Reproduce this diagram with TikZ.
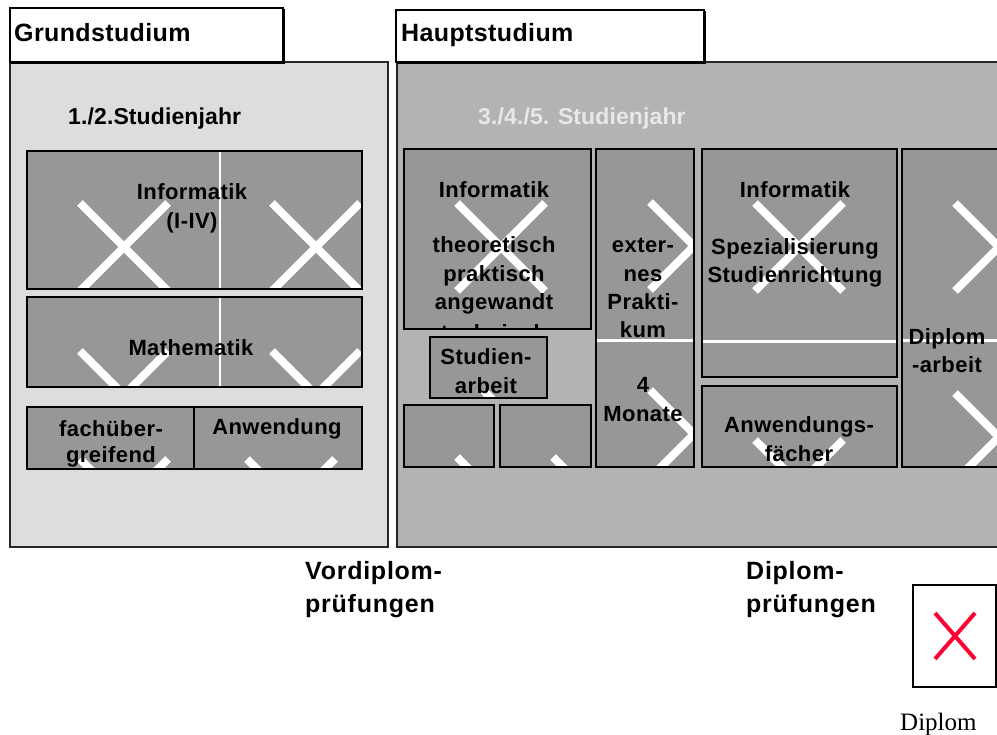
\documentclass[tikz,border=0pt]{standalone}
\usepackage{fontspec}
\setmainfont{Liberation Sans}
\newfontfamily\titlefont[LetterSpace=1.5]{Liberation Sans}
\newfontfamily\yearfont[LetterSpace=0.5]{Liberation Sans}
\newfontfamily\innerfont[LetterSpace=2]{Liberation Sans}
\newfontfamily\labelfont[LetterSpace=3]{Liberation Sans}
\newfontfamily\serifface{Liberation Serif}
\definecolor{lightbg}{HTML}{DDDDDD}
\definecolor{midbg}{HTML}{B3B3B3}
\definecolor{cellfill}{HTML}{979797}
\definecolor{yeartext}{HTML}{E8E8E8}
\definecolor{xred}{HTML}{FF0033}
\newcommand\brokenimg[2]{\draw[xline] (#1,#2) ++(-44,-44) -- ++(88,88) ++(0,-88) -- ++(-88,88);}
\begin{document}
\begin{tikzpicture}[x=1pt,y=-1pt,
  tabbox/.style={draw=black, line width=2pt, fill=white},
  panel/.style={draw=black!85, line width=1.5pt},
  cell/.style={draw=black, line width=1.6pt},
  xline/.style={white, line width=8pt},
  sepline/.style={white, line width=2.5pt},
  txt/.style={anchor=base, inner sep=0pt, font=\innerfont\bfseries\fontsize{22}{26}\selectfont},
  ttl/.style={anchor=base west, inner sep=0pt, font=\titlefont\bfseries\fontsize{25}{29}\selectfont},
  yr/.style={anchor=base west, inner sep=0pt, font=\yearfont\bfseries\fontsize{23}{27}\selectfont},
  lbl/.style={anchor=base west, inner sep=0pt, font=\labelfont\bfseries\fontsize{25}{29}\selectfont}]
\clip (0,0) rectangle (997,735);
\fill[white] (0,0) rectangle (997,735);

% ---------- panels ----------
\draw[panel, fill=lightbg] (10,62) rectangle (388,547);
\draw[panel, fill=midbg] (397,62) rectangle (1010,547);
\draw[tabbox] (10,8) rectangle (283,62);
\draw[black, line width=1.5pt] (284.5,9) -- (284.5,63.5) -- (11,63.5);
\draw[tabbox] (396,10) rectangle (704,62);
\draw[black, line width=1.5pt] (705.5,11) -- (705.5,63.5) -- (397,63.5);
\node[ttl] (grund) at (14,42) {Grundstudium};
\node[ttl] (haupt) at (401,42) {Hauptstudium};
\node[yr] (year1) at (68,125) {1./2.Studienjahr};
\node[yr, text=yeartext] (year2) at (478,125) {3./4./5. Studienjahr};

% ---------- Grundstudium cells ----------
\begin{scope}
  \clip (27,151) rectangle (362,289);
  \fill[cellfill] (27,151) rectangle (362,289);
  \draw[sepline] (220,151) -- (220,289);
  \brokenimg{124}{247}
  \brokenimg{316}{247}
  \node[txt] (infA) at (192,200) {Informatik};
  \node[txt] (infB) at (192,229) {(I-IV)};
\end{scope}
\draw[cell] (27,151) rectangle (362,289);

\begin{scope}
  \clip (27,297) rectangle (362,387);
  \fill[cellfill] (27,297) rectangle (362,387);
  \draw[sepline] (220,297) -- (220,387);
  \brokenimg{124}{395}
  \brokenimg{316}{395}
  \node[txt] (math) at (191,356) {Mathematik};
\end{scope}
\draw[cell] (27,297) rectangle (362,387);

\begin{scope}
  \clip (27,407) rectangle (194,469);
  \fill[cellfill] (27,407) rectangle (194,469);
  \brokenimg{124}{503}
  \node[txt] (fachA) at (111,437) {fachüber-};
  \node[txt] (fachB) at (111,463) {greifend};
\end{scope}
\draw[cell] (27,407) rectangle (194,469);

\begin{scope}
  \clip (194,407) rectangle (362,469);
  \fill[cellfill] (194,407) rectangle (362,469);
  \brokenimg{291}{503}
  \node[txt] (anw) at (277,435) {Anwendung};
\end{scope}
\draw[cell] (194,407) rectangle (362,469);

% ---------- Hauptstudium cells ----------
\begin{scope}
  \clip (404,149) rectangle (591,329);
  \fill[cellfill] (404,149) rectangle (591,329);
  \brokenimg{501}{247}
  \node[txt] (hinfA) at (494,198) {Informatik};
  \node[txt] (hinfB) at (494,253) {theoretisch};
  \node[txt] (hinfC) at (494,282) {praktisch};
  \node[txt] (hinfD) at (494,310) {angewandt};
  \node[txt] (hinfE) at (494,341) {technisch};
\end{scope}
\draw[cell] (404,149) rectangle (591,329);

\begin{scope}
  \clip (430,337) rectangle (547,398);
  \fill[cellfill] (430,337) rectangle (547,398);
  \brokenimg{528}{435}
  \node[txt] (stA) at (486,365) {Studien-};
  \node[txt] (stB) at (486,394) {arbeit};
\end{scope}
\draw[cell] (430,337) rectangle (547,398);

\begin{scope}
  \clip (404,405) rectangle (494,467);
  \fill[cellfill] (404,405) rectangle (494,467);
  \brokenimg{501}{501}
\end{scope}
\draw[cell] (404,405) rectangle (494,467);

\begin{scope}
  \clip (500,405) rectangle (591,467);
  \fill[cellfill] (500,405) rectangle (591,467);
  \brokenimg{597}{501}
\end{scope}
\draw[cell] (500,405) rectangle (591,467);

\begin{scope}
  \clip (596,149) rectangle (694,467);
  \fill[cellfill] (596,149) rectangle (694,467);
  \draw[sepline, line width=3pt] (596,341) -- (694,341);
  \brokenimg{694}{246}
  \brokenimg{694}{434}
  \node[txt] (prA) at (643,253) {exter-};
  \node[txt] (prB) at (643,282) {nes};
  \node[txt] (prC) at (643,310) {Prakti-};
  \node[txt] (prD) at (643,338) {kum};
  \node[txt] (prE) at (643,393) {4};
  \node[txt] (prF) at (643,422) {Monate};
\end{scope}
\draw[cell] (596,149) rectangle (694,467);

\begin{scope}
  \clip (702,149) rectangle (897,377);
  \fill[cellfill] (702,149) rectangle (897,377);
  \draw[sepline, line width=3pt] (702,342) -- (897,342);
  \brokenimg{799}{247}
  \node[txt] (spA) at (795,198) {Informatik};
  \node[txt] (spB) at (795,255) {Spezialisierung};
  \node[txt] (spC) at (795,283) {Studienrichtung};
\end{scope}
\draw[cell] (702,149) rectangle (897,377);

\begin{scope}
  \clip (702,386) rectangle (897,467);
  \fill[cellfill] (702,386) rectangle (897,467);
  \brokenimg{799}{484}
  \node[txt] (afA) at (799,433) {Anwendungs-};
  \node[txt] (afB) at (799,462) {fächer};
\end{scope}
\draw[cell] (702,386) rectangle (897,467);

\begin{scope}
  \clip (902,149) rectangle (1010,467);
  \fill[cellfill] (902,149) rectangle (1010,467);
  \draw[sepline, line width=3pt] (902,341) -- (1010,341);
  \brokenimg{999}{247}
  \brokenimg{999}{437}
  \node[txt] (dpA) at (947,345) {Diplom};
  \node[txt] (dpB) at (947,373) {-arbeit};
\end{scope}
\draw[cell] (902,149) rectangle (1010,467);

% ---------- exams ----------
\node[lbl] (vdA) at (305,579) {Vordiplom-};
\node[lbl] (vdB) at (305,612) {prüfungen};
\node[lbl] (dA) at (746,579) {Diplom-};
\node[lbl] (dB) at (746,612) {prüfungen};

% ---------- diploma placeholder ----------
\draw[line width=1.5pt, fill=white] (913,585) rectangle (996,687);
\draw[xred, line width=4pt] (935,613) -- (975,659) (975,613) -- (935,659);
\node[anchor=base west, inner sep=0pt, font=\serifface\fontsize{25}{29}\selectfont] (dipl) at (900,730) {Diplom};
\end{tikzpicture}
\end{document}
